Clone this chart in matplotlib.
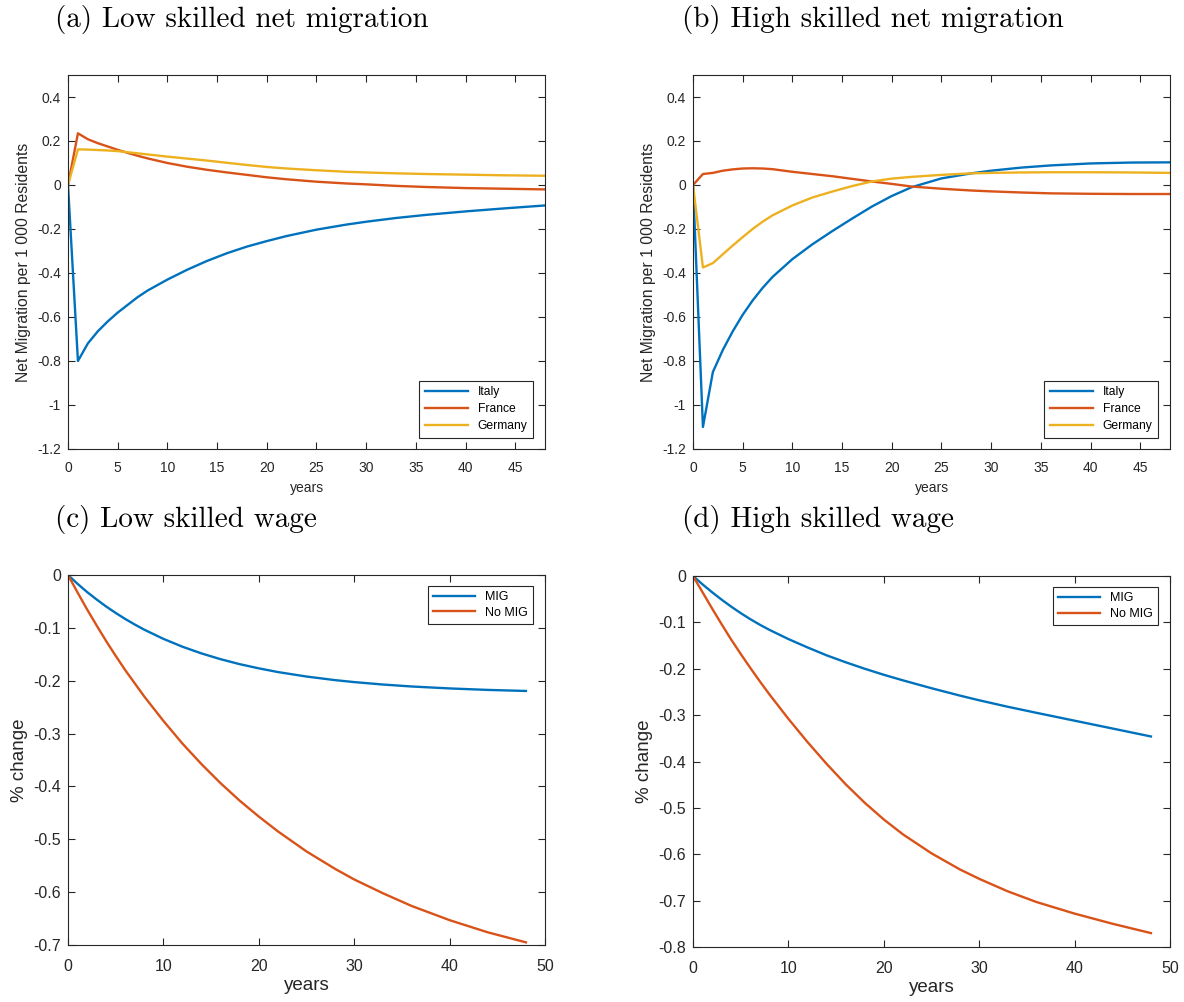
import numpy as np
import matplotlib
matplotlib.use('Agg')
import matplotlib.pyplot as plt

plt.rcParams['font.family'] = ['Liberation Sans', 'DejaVu Sans']
plt.rcParams['axes.unicode_minus'] = False

# colours (MATLAB default order)
BLUE, RED, YELLOW = '#0072BD', '#D95319', '#EDB120'
GRAY = '#262626'

years = [0, 1, 2, 3, 4, 5, 6, 7, 8, 10, 12, 14, 16, 18, 20, 22, 25, 28, 30, 33, 36, 40, 44, 48]

# (a) low skilled net migration, per 1 000 residents
low_italy = [0, -0.80, -0.72, -0.665, -0.62, -0.58, -0.545, -0.51, -0.48, -0.43, -0.385, -0.345,
             -0.31, -0.28, -0.255, -0.232, -0.203, -0.18, -0.167, -0.15, -0.136, -0.12, -0.106, -0.093]
low_france = [0, 0.235, 0.208, 0.19, 0.175, 0.16, 0.146, 0.133, 0.121, 0.1, 0.083, 0.069,
              0.057, 0.046, 0.035, 0.026, 0.015, 0.007, 0.003, -0.004, -0.009, -0.014, -0.017, -0.02]
low_germany = [0, 0.162, 0.161, 0.159, 0.157, 0.154, 0.149, 0.144, 0.139, 0.129, 0.12, 0.111,
               0.101, 0.091, 0.082, 0.075, 0.067, 0.06, 0.057, 0.053, 0.05, 0.047, 0.044, 0.042]

# (b) high skilled net migration
high_italy = [0, -1.10, -0.85, -0.75, -0.665, -0.59, -0.525, -0.468, -0.418, -0.337, -0.27, -0.21,
              -0.153, -0.098, -0.05, -0.01, 0.03, 0.053, 0.065, 0.079, 0.089, 0.098, 0.102, 0.103]
high_france = [0, 0.05, 0.055, 0.065, 0.071, 0.075, 0.076, 0.075, 0.072, 0.06, 0.05, 0.04,
               0.028, 0.016, 0.005, -0.007, -0.017, -0.025, -0.029, -0.034, -0.038, -0.04, -0.041, -0.041]
high_germany = [0, -0.375, -0.355, -0.315, -0.275, -0.237, -0.2, -0.167, -0.138, -0.093, -0.057, -0.03,
                -0.005, 0.016, 0.029, 0.037, 0.046, 0.053, 0.055, 0.057, 0.058, 0.058, 0.057, 0.055]

# (c) low skilled wage, % change
low_mig = [0, -0.0167, -0.0322, -0.0463, -0.0596, -0.0718, -0.0832, -0.0937, -0.1035, -0.1208,
           -0.1357, -0.1484, -0.1593, -0.1687, -0.1766, -0.1836, -0.1921, -0.1989, -0.2026,
           -0.2072, -0.2109, -0.2146, -0.2174, -0.2194]
low_nomig = [0, -0.033, -0.065, -0.0955, -0.125, -0.153, -0.18, -0.205, -0.23, -0.276, -0.319,
             -0.358, -0.394, -0.427, -0.457, -0.485, -0.523, -0.556, -0.576, -0.602, -0.626,
             -0.653, -0.676, -0.695]

# (d) high skilled wage, % change
high_mig = [0, -0.018, -0.035, -0.051, -0.066, -0.08, -0.093, -0.105, -0.116, -0.136, -0.154,
            -0.171, -0.186, -0.2, -0.213, -0.225, -0.242, -0.258, -0.268, -0.282, -0.295,
            -0.312, -0.329, -0.346]
high_nomig = [0, -0.035, -0.07, -0.104, -0.137, -0.168, -0.198, -0.227, -0.255, -0.308, -0.358,
              -0.405, -0.449, -0.489, -0.525, -0.557, -0.598, -0.633, -0.653, -0.68, -0.703,
              -0.728, -0.75, -0.77]

W, H = 1184, 1002
fig = plt.figure(figsize=(W / 100, H / 100), dpi=100)


def px_axes(left, top, right, bottom):
    return fig.add_axes([left / W, 1 - bottom / H, (right - left) / W, (bottom - top) / H])


def style(ax, fs, pad):
    for s in ax.spines.values():
        s.set_color(GRAY)
        s.set_linewidth(0.8)
    ax.tick_params(direction='in', length=5, width=0.8, color=GRAY, labelcolor=GRAY,
                   labelsize=fs, top=True, right=True)
    ax.tick_params(axis='x', pad=pad)
    ax.tick_params(axis='y', pad=5)


def title(x, y, s):
    fig.text(x / W, 1 - y / H, s, fontsize=21, family='cmr10', ha='left', va='center', color='black')


# ---- top row: net migration ----
for (left, right), series in [((68, 545), (low_italy, low_france, low_germany)),
                              ((693, 1170), (high_italy, high_france, high_germany))]:
    ax = px_axes(left, 75, right, 449)
    for vals, c, name in zip(series, (BLUE, RED, YELLOW), ('Italy', 'France', 'Germany')):
        ax.plot(years, vals, color=c, lw=1.7, label=name)
    ax.set_xlim(0, 48)
    ax.set_ylim(-1.2, 0.5)
    ax.set_xticks(np.arange(0, 46, 5))
    ax.set_yticks(np.arange(-1.2, 0.41, 0.2))
    ax.set_yticklabels(['-1.2', '-1', '-0.8', '-0.6', '-0.4', '-0.2', '0', '0.2', '0.4'])
    style(ax, 10, 9)
    ax.set_xlabel('years', fontsize=10, color=GRAY, labelpad=4)
    ax.set_ylabel('Net Migration per 1 000 Residents', fontsize=11.3, color=GRAY, labelpad=4)
    leg = ax.legend(loc='lower right', fontsize=8.7, frameon=True, fancybox=False,
                    edgecolor=GRAY, framealpha=1, handlelength=3.6, borderpad=0.45,
                    labelspacing=0.42, borderaxespad=0, bbox_to_anchor=(0.975, 0.03))
    leg.get_frame().set_linewidth(0.8)

title(55, 20, '(a) Low skilled net migration')
title(682, 20, '(b) High skilled net migration')

# ---- bottom row: wages ----
ax = px_axes(68, 575, 545, 945)
ax.plot(years, low_mig, color=BLUE, lw=1.7, label='MIG')
ax.plot(years, low_nomig, color=RED, lw=1.7, label='No MIG')
ax.set_xlim(0, 50)
ax.set_ylim(-0.7, 0)
ax.set_yticks(np.arange(-0.7, 0.01, 0.1))
ax.set_yticklabels(['-0.7', '-0.6', '-0.5', '-0.4', '-0.3', '-0.2', '-0.1', '0'])

ax2 = px_axes(693, 576, 1170, 947)
ax2.plot(years, high_mig, color=BLUE, lw=1.7, label='MIG')
ax2.plot(years, high_nomig, color=RED, lw=1.7, label='No MIG')
ax2.set_xlim(0, 50)
ax2.set_ylim(-0.8, 0)
ax2.set_yticks(np.arange(-0.8, 0.01, 0.1))
ax2.set_yticklabels(['-0.8', '-0.7', '-0.6', '-0.5', '-0.4', '-0.3', '-0.2', '-0.1', '0'])

for a in (ax, ax2):
    a.set_xticks(np.arange(0, 51, 10))
    style(a, 11.5, 10)
    a.set_xlabel('years', fontsize=13.5, color=GRAY, labelpad=2)
    a.set_ylabel('% change', fontsize=13.5, color=GRAY, labelpad=4)
    leg = a.legend(loc='upper right', fontsize=9, frameon=True, fancybox=False,
                   edgecolor=GRAY, framealpha=1, handlelength=3.4, borderpad=0.4,
                   labelspacing=0.3, borderaxespad=0, bbox_to_anchor=(0.975, 0.97))
    leg.get_frame().set_linewidth(0.8)

title(55, 520, '(c) Low skilled wage')
title(682, 520, '(d) High skilled wage')

fig.savefig('out.png', dpi=100)
